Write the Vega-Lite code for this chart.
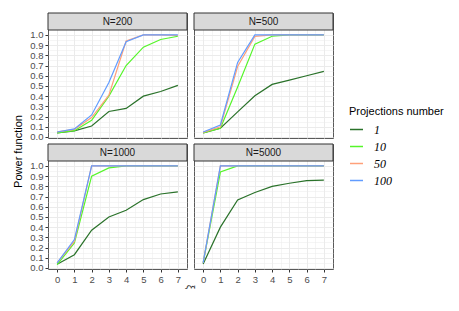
{
  "$schema": "https://vega.github.io/schema/vega-lite/v6.json",
  "padding": {"left": 12, "top": 12, "right": 5, "bottom": 5},
  "bounds": "flush",
  "columns": 2,
  "spacing": {"row": 6, "column": 7},
  "datasets": {"d": [
      {"panel":"N=200","P":1,"xi":0,"power":0.04},{"panel":"N=200","P":1,"xi":1,"power":0.06},{"panel":"N=200","P":1,"xi":2,"power":0.108},{"panel":"N=200","P":1,"xi":3,"power":0.25},{"panel":"N=200","P":1,"xi":4,"power":0.28},{"panel":"N=200","P":1,"xi":5,"power":0.40},{"panel":"N=200","P":1,"xi":6,"power":0.446},{"panel":"N=200","P":1,"xi":7,"power":0.505},
      {"panel":"N=200","P":10,"xi":0,"power":0.04},{"panel":"N=200","P":10,"xi":1,"power":0.062},{"panel":"N=200","P":10,"xi":2,"power":0.164},{"panel":"N=200","P":10,"xi":3,"power":0.40},{"panel":"N=200","P":10,"xi":4,"power":0.70},{"panel":"N=200","P":10,"xi":5,"power":0.88},{"panel":"N=200","P":10,"xi":6,"power":0.955},{"panel":"N=200","P":10,"xi":7,"power":0.987},
      {"panel":"N=200","P":50,"xi":0,"power":0.05},{"panel":"N=200","P":50,"xi":1,"power":0.075},{"panel":"N=200","P":50,"xi":2,"power":0.19},{"panel":"N=200","P":50,"xi":3,"power":0.41},{"panel":"N=200","P":50,"xi":4,"power":0.94},{"panel":"N=200","P":50,"xi":5,"power":1.0},{"panel":"N=200","P":50,"xi":6,"power":1.0},{"panel":"N=200","P":50,"xi":7,"power":0.995},
      {"panel":"N=200","P":100,"xi":0,"power":0.049},{"panel":"N=200","P":100,"xi":1,"power":0.079},{"panel":"N=200","P":100,"xi":2,"power":0.216},{"panel":"N=200","P":100,"xi":3,"power":0.534},{"panel":"N=200","P":100,"xi":4,"power":0.934},{"panel":"N=200","P":100,"xi":5,"power":1.0},{"panel":"N=200","P":100,"xi":6,"power":1.0},{"panel":"N=200","P":100,"xi":7,"power":1.0},
      {"panel":"N=500","P":1,"xi":0,"power":0.04},{"panel":"N=500","P":1,"xi":1,"power":0.085},{"panel":"N=500","P":1,"xi":2,"power":0.246},{"panel":"N=500","P":1,"xi":3,"power":0.403},{"panel":"N=500","P":1,"xi":4,"power":0.515},{"panel":"N=500","P":1,"xi":5,"power":0.557},{"panel":"N=500","P":1,"xi":6,"power":0.60},{"panel":"N=500","P":1,"xi":7,"power":0.643},
      {"panel":"N=500","P":10,"xi":0,"power":0.04},{"panel":"N=500","P":10,"xi":1,"power":0.085},{"panel":"N=500","P":10,"xi":2,"power":0.49},{"panel":"N=500","P":10,"xi":3,"power":0.91},{"panel":"N=500","P":10,"xi":4,"power":0.987},{"panel":"N=500","P":10,"xi":5,"power":1.0},{"panel":"N=500","P":10,"xi":6,"power":1.0},{"panel":"N=500","P":10,"xi":7,"power":1.0},
      {"panel":"N=500","P":50,"xi":0,"power":0.045},{"panel":"N=500","P":50,"xi":1,"power":0.10},{"panel":"N=500","P":50,"xi":2,"power":0.69},{"panel":"N=500","P":50,"xi":3,"power":0.985},{"panel":"N=500","P":50,"xi":4,"power":1.0},{"panel":"N=500","P":50,"xi":5,"power":1.0},{"panel":"N=500","P":50,"xi":6,"power":1.0},{"panel":"N=500","P":50,"xi":7,"power":1.0},
      {"panel":"N=500","P":100,"xi":0,"power":0.049},{"panel":"N=500","P":100,"xi":1,"power":0.118},{"panel":"N=500","P":100,"xi":2,"power":0.73},{"panel":"N=500","P":100,"xi":3,"power":1.0},{"panel":"N=500","P":100,"xi":4,"power":1.0},{"panel":"N=500","P":100,"xi":5,"power":1.0},{"panel":"N=500","P":100,"xi":6,"power":1.0},{"panel":"N=500","P":100,"xi":7,"power":1.0},
      {"panel":"N=1000","P":1,"xi":0,"power":0.036},{"panel":"N=1000","P":1,"xi":1,"power":0.13},{"panel":"N=1000","P":1,"xi":2,"power":0.37},{"panel":"N=1000","P":1,"xi":3,"power":0.50},{"panel":"N=1000","P":1,"xi":4,"power":0.565},{"panel":"N=1000","P":1,"xi":5,"power":0.67},{"panel":"N=1000","P":1,"xi":6,"power":0.725},{"panel":"N=1000","P":1,"xi":7,"power":0.745},
      {"panel":"N=1000","P":10,"xi":0,"power":0.033},{"panel":"N=1000","P":10,"xi":1,"power":0.245},{"panel":"N=1000","P":10,"xi":2,"power":0.90},{"panel":"N=1000","P":10,"xi":3,"power":0.98},{"panel":"N=1000","P":10,"xi":4,"power":1.0},{"panel":"N=1000","P":10,"xi":5,"power":1.0},{"panel":"N=1000","P":10,"xi":6,"power":1.0},{"panel":"N=1000","P":10,"xi":7,"power":1.0},
      {"panel":"N=1000","P":50,"xi":0,"power":0.05},{"panel":"N=1000","P":50,"xi":1,"power":0.26},{"panel":"N=1000","P":50,"xi":2,"power":1.0},{"panel":"N=1000","P":50,"xi":3,"power":1.0},{"panel":"N=1000","P":50,"xi":4,"power":1.0},{"panel":"N=1000","P":50,"xi":5,"power":1.0},{"panel":"N=1000","P":50,"xi":6,"power":1.0},{"panel":"N=1000","P":50,"xi":7,"power":1.0},
      {"panel":"N=1000","P":100,"xi":0,"power":0.049},{"panel":"N=1000","P":100,"xi":1,"power":0.278},{"panel":"N=1000","P":100,"xi":2,"power":1.0},{"panel":"N=1000","P":100,"xi":3,"power":1.0},{"panel":"N=1000","P":100,"xi":4,"power":1.0},{"panel":"N=1000","P":100,"xi":5,"power":1.0},{"panel":"N=1000","P":100,"xi":6,"power":1.0},{"panel":"N=1000","P":100,"xi":7,"power":1.0},
      {"panel":"N=5000","P":1,"xi":0,"power":0.04},{"panel":"N=5000","P":1,"xi":1,"power":0.40},{"panel":"N=5000","P":1,"xi":2,"power":0.667},{"panel":"N=5000","P":1,"xi":3,"power":0.74},{"panel":"N=5000","P":1,"xi":4,"power":0.80},{"panel":"N=5000","P":1,"xi":5,"power":0.83},{"panel":"N=5000","P":1,"xi":6,"power":0.856},{"panel":"N=5000","P":1,"xi":7,"power":0.86},
      {"panel":"N=5000","P":10,"xi":0,"power":0.05},{"panel":"N=5000","P":10,"xi":1,"power":0.94},{"panel":"N=5000","P":10,"xi":2,"power":1.0},{"panel":"N=5000","P":10,"xi":3,"power":1.0},{"panel":"N=5000","P":10,"xi":4,"power":1.0},{"panel":"N=5000","P":10,"xi":5,"power":1.0},{"panel":"N=5000","P":10,"xi":6,"power":1.0},{"panel":"N=5000","P":10,"xi":7,"power":1.0},
      {"panel":"N=5000","P":50,"xi":0,"power":0.05},{"panel":"N=5000","P":50,"xi":1,"power":1.0},{"panel":"N=5000","P":50,"xi":2,"power":1.0},{"panel":"N=5000","P":50,"xi":3,"power":1.0},{"panel":"N=5000","P":50,"xi":4,"power":1.0},{"panel":"N=5000","P":50,"xi":5,"power":1.0},{"panel":"N=5000","P":50,"xi":6,"power":1.0},{"panel":"N=5000","P":50,"xi":7,"power":1.0},
      {"panel":"N=5000","P":100,"xi":0,"power":0.049},{"panel":"N=5000","P":100,"xi":1,"power":1.0},{"panel":"N=5000","P":100,"xi":2,"power":1.0},{"panel":"N=5000","P":100,"xi":3,"power":1.0},{"panel":"N=5000","P":100,"xi":4,"power":1.0},{"panel":"N=5000","P":100,"xi":5,"power":1.0},{"panel":"N=5000","P":100,"xi":6,"power":1.0},{"panel":"N=5000","P":100,"xi":7,"power":1.0}
  ]},
  "config": {
    "font": "Liberation Sans",
    "view": {"stroke": "#5a5a5a", "strokeWidth": 1},
    "axis": {"gridColor": "#ebebeb", "domain": false, "labelColor": "#4d4d4d", "labelFontSize": 9.5, "labelFont": "Liberation Sans", "tickColor": "#333333", "tickSize": 3, "titleFont": "Liberation Sans", "titleFontWeight": "normal", "titleColor": "#000000", "titleFontSize": 11, "labelOverlap": false, "labelFlush": false},
    "legend": {"titleFont": "Liberation Sans", "titleFontSize": 11, "titleFontWeight": "normal", "titleColor": "#000000", "labelFont": "Liberation Serif", "labelFontStyle": "italic", "labelFontSize": 12, "labelColor": "#000000", "symbolType": "stroke", "symbolStrokeWidth": 1.5, "symbolSize": 169, "rowPadding": 3, "labelOffset": 10, "titlePadding": 5}
  },
  "concat": [
    {"data": {"name": "d"}, "transform": [{"filter": "datum.panel == 'N=200'"}], "width": 139, "height": 125,
     "layer": [
      {"mark": {"type": "line", "strokeWidth": 1.2},
       "encoding": {
         "x": {"field": "xi", "type": "quantitative", "scale": {"domain": [-0.53, 7.53], "nice": false, "zero": false},
               "axis": {"values": [0,0.5,1,1.5,2,2.5,3,3.5,4,4.5,5,5.5,6,6.5,7], "labels": false, "ticks": false, "title": null, "gridWidth": {"condition": {"test": "datum.value % 1 != 0", "value": 0.5}, "value": 1}}},
         "y": {"field": "power", "type": "quantitative", "scale": {"domain": [-0.01, 1.2146], "nice": false, "zero": false},
               "axis": {"values": [0,0.05,0.1,0.15,0.2,0.25,0.3,0.35,0.4,0.45,0.5,0.55,0.6,0.65,0.7,0.75,0.8,0.85,0.9,0.95,1.0], "labelOverlap": false, "labelExpr": "round(datum.value*20) % 2 == 0 ? format(datum.value, '.1f') : ''", "tickOpacity": {"condition": {"test": "round(datum.value*20) % 2 == 1", "value": 0}, "value": 1}, "gridWidth": {"condition": {"test": "round(datum.value*20) % 2 == 1", "value": 0.5}, "value": 1}, "title": "Power function", "titleY": 138, "titlePadding": 6}},
         "color": {"field": "P", "type": "nominal", "scale": {"domain": [1, 10, 50, 100], "range": ["#2a722a", "#55f52a", "#ffa07a", "#619cff"]}, "title": "Projections number", "legend": {"orient": "none", "legendX": 301, "legendY": 93}}
       }},
      {"transform": [{"aggregate": [{"op": "count", "as": "n"}], "groupby": ["panel"]}],
       "mark": {"type": "rect", "fill": "#d9d9d9", "stroke": "#333333", "strokeWidth": 1},
       "encoding": {"y": {"datum": 1.048, "type": "quantitative", "axis": {"values": [0,0.05,0.1,0.15,0.2,0.25,0.3,0.35,0.4,0.45,0.5,0.55,0.6,0.65,0.7,0.75,0.8,0.85,0.9,0.95,1.0], "labelOverlap": false, "labelExpr": "round(datum.value*20) % 2 == 0 ? format(datum.value, '.1f') : ''", "tickOpacity": {"condition": {"test": "round(datum.value*20) % 2 == 1", "value": 0}, "value": 1}, "gridWidth": {"condition": {"test": "round(datum.value*20) % 2 == 1", "value": 0.5}, "value": 1}, "title": "Power function", "titleY": 138, "titlePadding": 6}}, "y2": {"datum": 1.2146}}},
      {"transform": [{"aggregate": [{"op": "count", "as": "n"}], "groupby": ["panel"]}],
       "mark": {"type": "text", "fontSize": 10, "color": "#1a1a1a"},
       "encoding": {"text": {"field": "panel"}, "y": {"datum": 1.131, "type": "quantitative", "axis": {"values": [0,0.05,0.1,0.15,0.2,0.25,0.3,0.35,0.4,0.45,0.5,0.55,0.6,0.65,0.7,0.75,0.8,0.85,0.9,0.95,1.0], "labelOverlap": false, "labelExpr": "round(datum.value*20) % 2 == 0 ? format(datum.value, '.1f') : ''", "tickOpacity": {"condition": {"test": "round(datum.value*20) % 2 == 1", "value": 0}, "value": 1}, "gridWidth": {"condition": {"test": "round(datum.value*20) % 2 == 1", "value": 0.5}, "value": 1}, "title": "Power function", "titleY": 138, "titlePadding": 6}}}}
     ]},
    {"data": {"name": "d"}, "transform": [{"filter": "datum.panel == 'N=500'"}], "width": 139, "height": 125,
     "layer": [
      {"mark": {"type": "line", "strokeWidth": 1.2},
       "encoding": {
         "x": {"field": "xi", "type": "quantitative", "scale": {"domain": [-0.53, 7.53], "nice": false, "zero": false},
               "axis": {"values": [0,0.5,1,1.5,2,2.5,3,3.5,4,4.5,5,5.5,6,6.5,7], "labels": false, "ticks": false, "title": null, "gridWidth": {"condition": {"test": "datum.value % 1 != 0", "value": 0.5}, "value": 1}}},
         "y": {"field": "power", "type": "quantitative", "scale": {"domain": [-0.01, 1.2146], "nice": false, "zero": false},
               "axis": {"values": [0,0.05,0.1,0.15,0.2,0.25,0.3,0.35,0.4,0.45,0.5,0.55,0.6,0.65,0.7,0.75,0.8,0.85,0.9,0.95,1.0], "labels": false, "ticks": false, "title": null, "gridWidth": {"condition": {"test": "round(datum.value*20) % 2 == 1", "value": 0.5}, "value": 1}}},
         "color": {"field": "P", "type": "nominal", "scale": {"domain": [1, 10, 50, 100], "range": ["#2a722a", "#55f52a", "#ffa07a", "#619cff"]}, "title": "Projections number", "legend": {"orient": "none", "legendX": 301, "legendY": 93}}
       }},
      {"transform": [{"aggregate": [{"op": "count", "as": "n"}], "groupby": ["panel"]}],
       "mark": {"type": "rect", "fill": "#d9d9d9", "stroke": "#333333", "strokeWidth": 1},
       "encoding": {"y": {"datum": 1.048, "type": "quantitative", "axis": {"values": [0,0.05,0.1,0.15,0.2,0.25,0.3,0.35,0.4,0.45,0.5,0.55,0.6,0.65,0.7,0.75,0.8,0.85,0.9,0.95,1.0], "labels": false, "ticks": false, "title": null, "gridWidth": {"condition": {"test": "round(datum.value*20) % 2 == 1", "value": 0.5}, "value": 1}}}, "y2": {"datum": 1.2146}}},
      {"transform": [{"aggregate": [{"op": "count", "as": "n"}], "groupby": ["panel"]}],
       "mark": {"type": "text", "fontSize": 10, "color": "#1a1a1a"},
       "encoding": {"text": {"field": "panel"}, "y": {"datum": 1.131, "type": "quantitative", "axis": {"values": [0,0.05,0.1,0.15,0.2,0.25,0.3,0.35,0.4,0.45,0.5,0.55,0.6,0.65,0.7,0.75,0.8,0.85,0.9,0.95,1.0], "labels": false, "ticks": false, "title": null, "gridWidth": {"condition": {"test": "round(datum.value*20) % 2 == 1", "value": 0.5}, "value": 1}}}}}
     ]},
    {"data": {"name": "d"}, "transform": [{"filter": "datum.panel == 'N=1000'"}], "width": 139, "height": 125,
     "layer": [
      {"mark": {"type": "line", "strokeWidth": 1.2},
       "encoding": {
         "x": {"field": "xi", "type": "quantitative", "scale": {"domain": [-0.53, 7.53], "nice": false, "zero": false},
               "axis": {"values": [0,0.5,1,1.5,2,2.5,3,3.5,4,4.5,5,5.5,6,6.5,7], "labelOverlap": false, "labelExpr": "datum.value % 1 == 0 ? format(datum.value, 'd') : ''", "tickOpacity": {"condition": {"test": "datum.value % 1 != 0", "value": 0}, "value": 1}, "gridWidth": {"condition": {"test": "datum.value % 1 != 0", "value": 0.5}, "value": 1}, "title": "ξ", "titleX": 146, "titleAngle": 90, "titlePadding": 3, "titleFontSize": 10, "titleColor": "#333333"}},
         "y": {"field": "power", "type": "quantitative", "scale": {"domain": [-0.01, 1.2146], "nice": false, "zero": false},
               "axis": {"values": [0,0.05,0.1,0.15,0.2,0.25,0.3,0.35,0.4,0.45,0.5,0.55,0.6,0.65,0.7,0.75,0.8,0.85,0.9,0.95,1.0], "labelOverlap": false, "labelExpr": "round(datum.value*20) % 2 == 0 ? format(datum.value, '.1f') : ''", "tickOpacity": {"condition": {"test": "round(datum.value*20) % 2 == 1", "value": 0}, "value": 1}, "gridWidth": {"condition": {"test": "round(datum.value*20) % 2 == 1", "value": 0.5}, "value": 1}, "title": null}},
         "color": {"field": "P", "type": "nominal", "scale": {"domain": [1, 10, 50, 100], "range": ["#2a722a", "#55f52a", "#ffa07a", "#619cff"]}, "title": "Projections number", "legend": {"orient": "none", "legendX": 301, "legendY": 93}}
       }},
      {"transform": [{"aggregate": [{"op": "count", "as": "n"}], "groupby": ["panel"]}],
       "mark": {"type": "rect", "fill": "#d9d9d9", "stroke": "#333333", "strokeWidth": 1},
       "encoding": {"y": {"datum": 1.048, "type": "quantitative", "axis": {"values": [0,0.05,0.1,0.15,0.2,0.25,0.3,0.35,0.4,0.45,0.5,0.55,0.6,0.65,0.7,0.75,0.8,0.85,0.9,0.95,1.0], "labelOverlap": false, "labelExpr": "round(datum.value*20) % 2 == 0 ? format(datum.value, '.1f') : ''", "tickOpacity": {"condition": {"test": "round(datum.value*20) % 2 == 1", "value": 0}, "value": 1}, "gridWidth": {"condition": {"test": "round(datum.value*20) % 2 == 1", "value": 0.5}, "value": 1}, "title": null}}, "y2": {"datum": 1.2146}}},
      {"transform": [{"aggregate": [{"op": "count", "as": "n"}], "groupby": ["panel"]}],
       "mark": {"type": "text", "fontSize": 10, "color": "#1a1a1a"},
       "encoding": {"text": {"field": "panel"}, "y": {"datum": 1.131, "type": "quantitative", "axis": {"values": [0,0.05,0.1,0.15,0.2,0.25,0.3,0.35,0.4,0.45,0.5,0.55,0.6,0.65,0.7,0.75,0.8,0.85,0.9,0.95,1.0], "labelOverlap": false, "labelExpr": "round(datum.value*20) % 2 == 0 ? format(datum.value, '.1f') : ''", "tickOpacity": {"condition": {"test": "round(datum.value*20) % 2 == 1", "value": 0}, "value": 1}, "gridWidth": {"condition": {"test": "round(datum.value*20) % 2 == 1", "value": 0.5}, "value": 1}, "title": null}}}}
     ]},
    {"data": {"name": "d"}, "transform": [{"filter": "datum.panel == 'N=5000'"}], "width": 139, "height": 125,
     "layer": [
      {"mark": {"type": "line", "strokeWidth": 1.2},
       "encoding": {
         "x": {"field": "xi", "type": "quantitative", "scale": {"domain": [-0.53, 7.53], "nice": false, "zero": false},
               "axis": {"values": [0,0.5,1,1.5,2,2.5,3,3.5,4,4.5,5,5.5,6,6.5,7], "labelOverlap": false, "labelExpr": "datum.value % 1 == 0 ? format(datum.value, 'd') : ''", "tickOpacity": {"condition": {"test": "datum.value % 1 != 0", "value": 0}, "value": 1}, "gridWidth": {"condition": {"test": "datum.value % 1 != 0", "value": 0.5}, "value": 1}, "title": null}},
         "y": {"field": "power", "type": "quantitative", "scale": {"domain": [-0.01, 1.2146], "nice": false, "zero": false},
               "axis": {"values": [0,0.05,0.1,0.15,0.2,0.25,0.3,0.35,0.4,0.45,0.5,0.55,0.6,0.65,0.7,0.75,0.8,0.85,0.9,0.95,1.0], "labels": false, "ticks": false, "title": null, "gridWidth": {"condition": {"test": "round(datum.value*20) % 2 == 1", "value": 0.5}, "value": 1}}},
         "color": {"field": "P", "type": "nominal", "scale": {"domain": [1, 10, 50, 100], "range": ["#2a722a", "#55f52a", "#ffa07a", "#619cff"]}, "title": "Projections number", "legend": {"orient": "none", "legendX": 301, "legendY": 93}}
       }},
      {"transform": [{"aggregate": [{"op": "count", "as": "n"}], "groupby": ["panel"]}],
       "mark": {"type": "rect", "fill": "#d9d9d9", "stroke": "#333333", "strokeWidth": 1},
       "encoding": {"y": {"datum": 1.048, "type": "quantitative", "axis": {"values": [0,0.05,0.1,0.15,0.2,0.25,0.3,0.35,0.4,0.45,0.5,0.55,0.6,0.65,0.7,0.75,0.8,0.85,0.9,0.95,1.0], "labels": false, "ticks": false, "title": null, "gridWidth": {"condition": {"test": "round(datum.value*20) % 2 == 1", "value": 0.5}, "value": 1}}}, "y2": {"datum": 1.2146}}},
      {"transform": [{"aggregate": [{"op": "count", "as": "n"}], "groupby": ["panel"]}],
       "mark": {"type": "text", "fontSize": 10, "color": "#1a1a1a"},
       "encoding": {"text": {"field": "panel"}, "y": {"datum": 1.131, "type": "quantitative", "axis": {"values": [0,0.05,0.1,0.15,0.2,0.25,0.3,0.35,0.4,0.45,0.5,0.55,0.6,0.65,0.7,0.75,0.8,0.85,0.9,0.95,1.0], "labels": false, "ticks": false, "title": null, "gridWidth": {"condition": {"test": "round(datum.value*20) % 2 == 1", "value": 0.5}, "value": 1}}}}}
     ]}
  ]
}
